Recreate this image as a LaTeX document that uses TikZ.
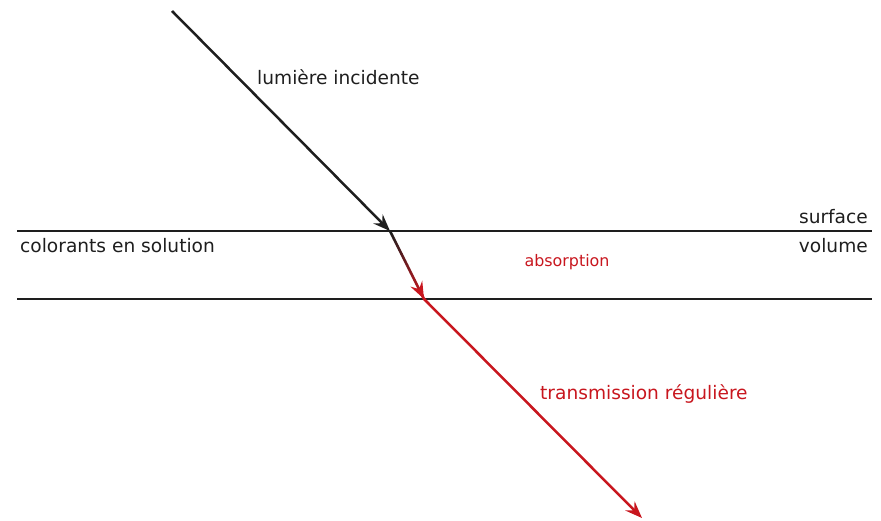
\documentclass[tikz,border=0pt]{standalone}
\usepackage{fontspec}
\setmainfont{DejaVu Sans}
\usepackage{tikz}
\usetikzlibrary{arrows.meta, calc, positioning}
\definecolor{rayred}{RGB}{200,22,30}
\definecolor{raygray}{RGB}{30,30,30}

\begin{document}
\begin{tikzpicture}[x=1pt, y=-1pt, >={Stealth[length=17pt,width=13pt,inset=6pt]},
    ray/.style={line width=2.5pt},
    interface/.style={line width=2.5pt, draw=raygray},
    lbl/.style={inner sep=0pt, font=\fontsize{18.6}{22}\selectfont, text=raygray},
    redlbl/.style={lbl, text=rayred}]
      \useasboundingbox (0,0) rectangle (881,521);

      % interfaces
      \coordinate (sl) at (17,231);
      \coordinate (sr) at (872,231);
      \coordinate (vl) at (17,299);
      \coordinate (vr) at (872,299);
      \draw[interface] (sl) -- (sr);
      \draw[interface] (vl) -- (vr);

      % ray
      \coordinate (src) at (172,11);
      \coordinate (entry) at (390,231);
      \coordinate (exit) at (424,299);
      \coordinate (out) at (642,518);
      \draw[ray, raygray, ->] (src) -- (entry);
      \foreach \i in {0,...,17}
        \draw[ray, line cap=butt, draw=rayred!\the\numexpr\i*100/17\relax!raygray]
          ($(entry)!\i/18!(exit)$) -- ($(entry)!\i/18+1/18+0.005!(exit)$);
      \draw[ray, rayred, ->] ($(entry)!0.97!(exit)$) -- (exit);
      \draw[ray, rayred, ->] (exit) -- (out);

      % labels
      \node[lbl, anchor=west] (incident) at (257,77) {lumière incidente};
      \node[lbl, anchor=east] (surface) at (868,217) {surface};
      \node[lbl, anchor=east] (volume) at (868,246) {volume};
      \node[lbl, anchor=west] (solution) at (20,246) {colorants en solution};
      \node[redlbl, font=\fontsize{15.9}{19}\selectfont] (absorption) at (567,262) {absorption};
      \node[redlbl, anchor=west] (transmission) at (540,394) {transmission régulière};
    \end{tikzpicture}
\end{document}
